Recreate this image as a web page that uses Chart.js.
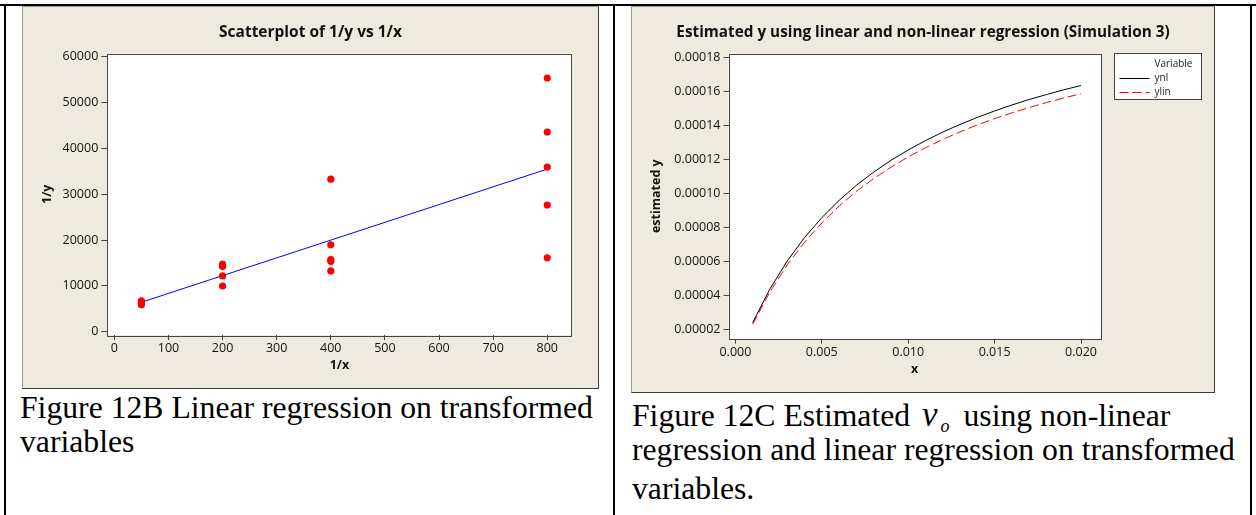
<!DOCTYPE html>
<html>
<head>
<meta charset="utf-8">
<script src="https://cdn.jsdelivr.net/npm/chart.js@4.4.1/dist/chart.umd.min.js"></script>
<style>
  body { margin:0; width:1256px; height:515px; background:#fff; position:relative; overflow:hidden; }
  .rule { position:absolute; background:#000; }
  .panel { position:absolute; background:#eeeae0; border:1px solid #9a9a9a; border-right-color:#3c3c3c; border-bottom-color:#3c3c3c; box-sizing:border-box; }
  canvas { position:absolute; }
  .cap { position:absolute; font-family:'Liberation Serif','Times New Roman',serif; font-size:31.7px; line-height:31.7px; color:#000; white-space:nowrap; }
  .nu { font-style:italic; font-size:35px; margin-left:4px; }
  .sub { font-style:italic; font-size:18px; position:relative; top:6px; margin-left:3px; margin-right:6px; }
</style>
</head>
<body>
<!-- table rules -->
<div class="rule" style="left:0;top:4px;width:1256px;height:2px"></div>
<div class="rule" style="left:4px;top:4px;width:2px;height:511px"></div>
<div class="rule" style="left:613px;top:4px;width:2px;height:511px"></div>
<div class="rule" style="left:1250px;top:4px;width:2px;height:511px"></div>

<div class="panel" style="left:22px;top:6px;width:577px;height:383px"></div>
<div class="panel" style="left:631px;top:6px;width:584px;height:387px"></div>

<canvas id="scatter" width="575" height="382" style="left:23px;top:6px"></canvas>
<canvas id="curves" width="582" height="386" style="left:632px;top:6px"></canvas>

<div class="cap" style="left:20px;top:392px">Figure 12B Linear regression on transformed</div>
<div class="cap" style="left:20px;top:426px">variables</div>
<div class="cap" style="left:632px;top:398.5px">Figure 12C Estimated <span class="nu">ν</span><span class="sub">o</span> using non-linear</div>
<div class="cap" style="left:632px;top:434px">regression and linear regression on transformed</div>
<div class="cap" style="left:632px;top:472.5px">variables.</div>

<script>
// 12B: 1/y against 1/x
const invX = [50, 50, 50, 50, 50, 200, 200, 200, 200, 200, 400, 400, 400, 400, 400, 800, 800, 800, 800, 800];
const invY = [6700, 6450, 6250, 6050, 5850, 14750, 14500, 14200, 12150, 9950,
              33300, 18950, 15700, 15350, 13250, 55400, 43600, 35950, 27650, 16100];
const fitX = [50, 800];
const fitY = [6400, 35500];
const xTicksB = [0, 100, 200, 300, 400, 500, 600, 700, 800];
const yTicksB = [0, 10000, 20000, 30000, 40000, 50000, 60000];

// 12C: estimated y from both fits
const xs = [0.001, 0.002, 0.003, 0.004, 0.005, 0.006, 0.007, 0.008, 0.009, 0.010,
            0.011, 0.012, 0.013, 0.014, 0.015, 0.016, 0.017, 0.018, 0.019, 0.020];
const ynl = [0.0000243, 0.0000440, 0.0000604, 0.0000741, 0.0000858, 0.0000959, 0.0001048, 0.0001125, 0.0001194, 0.0001255,
             0.0001310, 0.0001360, 0.0001405, 0.0001446, 0.0001484, 0.0001519, 0.0001551, 0.0001580, 0.0001608, 0.0001633];
const ylin = [0.0000233, 0.0000423, 0.0000581, 0.0000714, 0.0000827, 0.0000926, 0.0001012, 0.0001087, 0.0001154, 0.0001214,
              0.0001268, 0.0001317, 0.0001361, 0.0001402, 0.0001439, 0.0001473, 0.0001504, 0.0001533, 0.0001560, 0.0001585];
const xTicksC = [0, 0.005, 0.010, 0.015, 0.020];
const yTicksC = [0.00002, 0.00004, 0.00006, 0.00008, 0.00010, 0.00012, 0.00014, 0.00016, 0.00018];

Chart.defaults.font.family = "'Open Sans', 'Noto Sans', sans-serif";
Chart.defaults.font.size = 12.5;
Chart.defaults.color = '#111';

const AXIS = '#444';

// white data region with a grey frame
const plotFrame = {
  id: 'plotFrame',
  beforeDraw(chart) {
    const a = chart.chartArea, ctx = chart.ctx;
    ctx.save();
    ctx.fillStyle = '#fff';
    ctx.fillRect(a.left, a.top, a.right - a.left, a.bottom - a.top);
    ctx.restore();
  },
  afterDraw(chart) {
    const a = chart.chartArea, ctx = chart.ctx;
    ctx.save();
    ctx.strokeStyle = AXIS;
    ctx.lineWidth = 1;
    ctx.strokeRect(Math.round(a.left) + 0.5, Math.round(a.top) + 0.5,
                   Math.round(a.right - a.left), Math.round(a.bottom - a.top));
    ctx.restore();
  }
};

// boxed legend with a "Variable" heading
const varLegend = {
  id: 'varLegend',
  afterDraw(chart) {
    const ctx = chart.ctx, a = chart.chartArea;
    const x = Math.round(a.right + 13) + 0.5, y = Math.round(a.top) - 0.5;
    ctx.save();
    ctx.fillStyle = '#fff';
    ctx.fillRect(x, y, 87, 46);
    ctx.strokeStyle = AXIS;
    ctx.lineWidth = 1;
    ctx.strokeRect(x, y, 87, 46);
    ctx.font = "10px 'Open Sans'";
    ctx.fillStyle = '#222';
    ctx.textBaseline = 'middle';
    ctx.fillText('Variable', x + 40, y + 10.5);
    chart.data.datasets.forEach((ds, i) => {
      const ly = Math.round(y + 24.5 + i * 14) + 0.5;
      ctx.strokeStyle = ds.borderColor;
      ctx.setLineDash(ds.borderDash || []);
      ctx.beginPath();
      ctx.moveTo(x + 5, ly);
      ctx.lineTo(x + 35, ly);
      ctx.stroke();
      ctx.setLineDash([]);
      ctx.fillText(ds.label, x + 40, ly);
    });
    ctx.restore();
  }
};

function axis(opts) {
  return Object.assign({
    type: 'linear',
    grid: { drawOnChartArea: false, drawTicks: true, tickLength: 5, color: AXIS },
    border: { display: false },
  }, opts);
}

// empty right-hand axis that only reserves room, so the title stays centred on the whole panel
function spacer(w) {
  return {
    type: 'linear', position: 'right',
    grid: { display: false }, border: { display: false },
    ticks: { display: false },
    afterFit: s => { s.width = w; }
  };
}

new Chart(document.getElementById('scatter'), {
  data: {
    datasets: [
      {
        type: 'scatter',
        data: invX.map((x, i) => ({ x: x, y: invY[i] })),
        backgroundColor: '#ff0000',
        borderWidth: 0,
        pointRadius: 3.6
      },
      {
        type: 'line',
        data: fitX.map((x, i) => ({ x: x, y: fitY[i] })),
        borderColor: '#0000ff',
        borderWidth: 1,
        pointRadius: 0,
        fill: false
      }
    ]
  },
  options: {
    responsive: false,
    animation: false,
    devicePixelRatio: 1,
    layout: { padding: 0 },
    plugins: {
      legend: { display: false },
      tooltip: { enabled: false },
      title: {
        display: true,
        text: 'Scatterplot of 1/y vs 1/x',
        font: { size: 15.5, weight: 'bold' },
        color: '#111',
        padding: { top: 17.5, bottom: 11.4 }
      }
    },
    scales: {
      x: axis({
        min: -13, max: 845,
        afterBuildTicks: s => { s.ticks = xTicksB.map(v => ({ value: v })); },
        afterFit: s => { s.height = 53; },
        ticks: { padding: 1, callback: v => String(v) },
        title: { display: true, text: '1/x', font: { size: 12.5, weight: 'bold' }, color: '#111', padding: { top: 3, bottom: 15 } }
      }),
      y: axis({
        min: -750, max: 60750,
        grid: { drawOnChartArea: false, drawTicks: true, tickLength: 6, color: AXIS },
        afterBuildTicks: s => { s.ticks = yTicksB.map(v => ({ value: v })); },
        afterFit: s => { s.width = 84.3; },
        ticks: { padding: 3, callback: v => String(v) },
        title: { display: true, text: '1/y', font: { size: 12.5, weight: 'bold' }, color: '#111', padding: { top: 17, bottom: 0 } }
      }),
      yr: spacer(26.4)
    }
  },
  plugins: [plotFrame]
});

new Chart(document.getElementById('curves'), {
  type: 'line',
  data: {
    datasets: [
      {
        label: 'ynl',
        data: xs.map((x, i) => ({ x: x, y: ynl[i] })),
        borderColor: '#000000',
        borderWidth: 1,
        pointRadius: 0,
        tension: 0
      },
      {
        label: 'ylin',
        data: xs.map((x, i) => ({ x: x, y: ylin[i] })),
        borderColor: '#ff0000',
        borderWidth: 1,
        borderDash: [9, 4],
        pointRadius: 0,
        tension: 0
      }
    ]
  },
  options: {
    responsive: false,
    animation: false,
    devicePixelRatio: 1,
    layout: { padding: 0 },
    plugins: {
      legend: { display: false },
      tooltip: { enabled: false },
      title: {
        display: true,
        text: 'Estimated y using linear and non-linear regression (Simulation 3)',
        font: { size: 15.3, weight: 'bold' },
        color: '#111',
        padding: { top: 17.5, bottom: 11.8 }
      }
    },
    scales: {
      x: axis({
        min: -0.0004, max: 0.02114,
        afterBuildTicks: s => { s.ticks = xTicksC.map(v => ({ value: v })); },
        afterFit: s => { s.height = 53.3; },
        ticks: { padding: 1.4, callback: v => v.toFixed(3) },
        title: { display: true, text: 'x', font: { size: 12.5, weight: 'bold' }, color: '#111', padding: { top: 3, bottom: 15.5 } }
      }),
      y: axis({
        min: 0.0000148, max: 0.000182,
        afterBuildTicks: s => { s.ticks = yTicksC.map(v => ({ value: v })); },
        afterFit: s => { s.width = 96.5; },
        ticks: { padding: 3, callback: v => v.toFixed(5) },
        title: { display: true, text: 'estimated y', font: { size: 12.5, weight: 'bold' }, color: '#111', padding: { top: 17, bottom: 0 } }
      }),
      yr: spacer(113.3)
    }
  },
  plugins: [plotFrame, varLegend]
});
</script>
</body>
</html>
